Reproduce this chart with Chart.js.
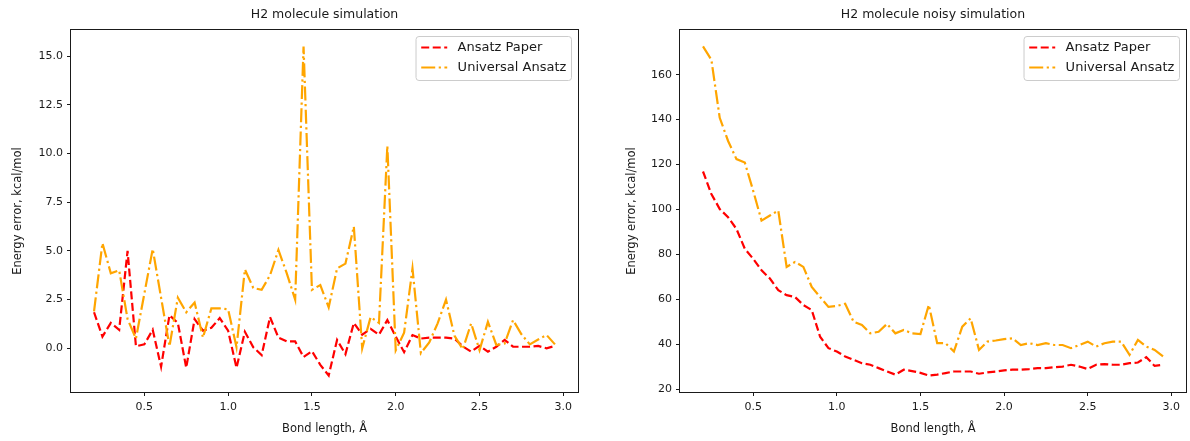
<!DOCTYPE html>
<html>
<head>
<meta charset="utf-8">
<script src="https://cdn.jsdelivr.net/npm/chart.js@4.4.0/dist/chart.umd.min.js"></script>
<style>
  html, body { margin: 0; padding: 0; background: #fff; }
  #wrap { position: relative; width: 1190px; height: 441px; }
  canvas { position: absolute; top: 0; }
</style>
</head>
<body>
<div id="wrap">
  <canvas id="ideal" width="590" height="441" style="left:0"></canvas>
  <canvas id="noisy" width="600" height="441" style="left:590px"></canvas>
</div>
<script>
// bond lengths, Å
const bondLength = [0.20, 0.25, 0.30, 0.35, 0.40, 0.45, 0.50, 0.55, 0.60, 0.65,
    0.70, 0.75, 0.80, 0.85, 0.90, 0.95, 1.00, 1.05, 1.10, 1.15,
    1.20, 1.25, 1.30, 1.35, 1.40, 1.45, 1.50, 1.55, 1.60, 1.65,
    1.70, 1.75, 1.80, 1.85, 1.90, 1.95, 2.00, 2.05, 2.10, 2.15,
    2.20, 2.25, 2.30, 2.35, 2.40, 2.45, 2.50, 2.55, 2.60, 2.65,
    2.70, 2.75, 2.80, 2.85, 2.90, 2.95];

// energy error, kcal/mol (noiseless)
const paperIdeal = [1.85, 0.6, 1.3, 0.95, 5.0, 0.1, 0.2, 0.95, -0.95, 1.7,
    1.3, -1.0, 1.5, 0.9, 1.05, 1.55, 0.9, -1.0, 0.85, 0.05,
    -0.35, 1.6, 0.55, 0.35, 0.35, -0.45, -0.15, -0.85, -1.4, 0.43,
    -0.3, 1.3, 0.7, 1.0, 0.7, 1.45, 0.6, -0.2, 0.68, 0.5,
    0.55, 0.55, 0.55, 0.5, 0.1, -0.17, 0.12, -0.17, 0.08, 0.43,
    0.08, 0.08, 0.08, 0.12, 0.0, 0.12];
const universalIdeal = [1.9, 5.4, 3.85, 4.0, 1.5, 0.5, 2.8, 5.1, 2.6, 0.1,
    2.6, 1.85, 2.35, 0.55, 2.05, 2.05, 2.0, 0.05, 4.05, 3.1,
    3.0, 3.75, 5.05, 3.85, 2.5, 15.5, 3.0, 3.25, 2.1, 4.1,
    4.35, 6.25, 0.0, 1.6, 1.3, 10.4, -0.1, 0.8, 4.1, -0.25,
    0.3, 1.28, 2.5, 0.65, -0.05, 1.28, -0.1, 1.36, 0.17, 0.25,
    1.45, 0.72, 0.2, 0.45, 0.68, 0.2];

// energy error, kcal/mol (noisy)
const paperNoisy = [116.9, 106.9, 100.2, 96.5, 91.3, 82.5, 78.0, 72.9, 69.2, 64.0,
    61.8, 61.0, 57.4, 55.2, 43.3, 38.2, 36.7, 34.5, 33.0, 31.5,
    30.8, 29.3, 27.8, 26.4, 28.6, 28.0, 27.2, 26.0, 26.4, 27.1,
    27.8, 27.8, 27.8, 26.8, 27.4, 27.8, 28.3, 28.6, 28.6, 28.9,
    29.3, 29.3, 29.7, 30.0, 30.8, 30.0, 28.9, 30.8, 31.1, 30.8,
    30.8, 31.5, 31.8, 34.2, 30.3, 30.8];
const universalNoisy = [172.6, 166.7, 140.8, 130.5, 122.4, 120.9, 108.3, 95.0, 97.3, 99.5,
    74.4, 76.6, 74.4, 65.5, 61.0, 56.6, 57.0, 58.0, 50.0, 48.5,
    44.8, 45.5, 49.0, 44.8, 46.3, 44.8, 44.5, 57.5, 40.4, 40.4,
    36.7, 47.8, 51.5, 37.4, 41.1, 41.6, 42.2, 42.6, 39.6, 40.4,
    39.6, 40.4, 39.6, 39.6, 38.2, 39.6, 41.1, 38.9, 40.4, 41.1,
    41.1, 35.2, 41.9, 38.9, 37.4, 34.5];

const xTicks = [0.5, 1.0, 1.5, 2.0, 2.5, 3.0];
const yTicksIdeal = [0, 2.5, 5.0, 7.5, 10.0, 12.5, 15.0];
const yTicksNoisy = [20, 40, 60, 80, 100, 120, 140, 160];

const FONT = "'DejaVu Sans', sans-serif";
const INK = "#1a1a1a";
Chart.defaults.font.family = FONT;
Chart.defaults.color = INK;

// matplotlib-like 5% margins
function padRange(arrs) {
    const all = [].concat(...arrs);
    const lo = Math.min(...all), hi = Math.max(...all);
    const m = (hi - lo) * 0.05;
    return [lo - m, hi + m];
}

// black box round the plot area
const framePlugin = {
    id: "frame",
    afterDatasetsDraw(chart) {
        const a = chart.chartArea, ctx = chart.ctx;
        ctx.save();
        ctx.strokeStyle = INK;
        ctx.lineWidth = 1;
        ctx.strokeRect(Math.round(a.left) - 0.5, Math.round(a.top) - 0.5,
            Math.round(a.right - a.left) + 1, Math.round(a.bottom - a.top) + 1);
        ctx.restore();
    }
};

// legend in a rounded frame, upper right of the axes
const boxLegend = {
    id: "boxLegend",
    afterDatasetsDraw(chart) {
        const a = chart.chartArea, ctx = chart.ctx;
        const fs = 13;
        const sets = chart.data.datasets;
        ctx.save();
        ctx.font = fs + "px " + FONT;
        const textW = Math.max(...sets.map(d => ctx.measureText(d.label).width));
        const w = 41.6 + textW + 5.2, h = 44;
        const x0 = a.right - 6.5 - w, y0 = a.top + 6.5, r = 3;
        ctx.beginPath();
        ctx.moveTo(x0 + r, y0);
        ctx.arcTo(x0 + w, y0, x0 + w, y0 + h, r);
        ctx.arcTo(x0 + w, y0 + h, x0, y0 + h, r);
        ctx.arcTo(x0, y0 + h, x0, y0, r);
        ctx.arcTo(x0, y0, x0 + w, y0, r);
        ctx.closePath();
        ctx.fillStyle = "rgba(255,255,255,0.8)";
        ctx.fill();
        ctx.strokeStyle = "#cccccc";
        ctx.lineWidth = 1;
        ctx.stroke();
        sets.forEach((d, i) => {
            const cy = y0 + 11 + i * 20;
            ctx.beginPath();
            ctx.setLineDash(d.borderDash);
            ctx.strokeStyle = d.borderColor;
            ctx.lineWidth = d.borderWidth;
            ctx.moveTo(x0 + 5.2, cy);
            ctx.lineTo(x0 + 31.2, cy);
            ctx.stroke();
            ctx.setLineDash([]);
            ctx.fillStyle = INK;
            ctx.textBaseline = "middle";
            ctx.textAlign = "left";
            ctx.fillText(d.label, x0 + 41.6, cy + 0.5);
        });
        ctx.restore();
    }
};

function makePanel(id, title, paper, universal, yTicks, yFmt, box) {
    const [ymin, ymax] = padRange([paper, universal]);
    const [xmin, xmax] = padRange([bondLength]);
    return new Chart(document.getElementById(id), {
        type: "line",
        data: {
            labels: bondLength,
            datasets: [
                {
                    label: "Ansatz Paper",
                    data: bondLength.map((x, i) => ({ x: x, y: paper[i] })),
                    borderColor: "#ff0000",
                    borderWidth: 2.2,
                    borderDash: [8, 3.5],
                    pointRadius: 0,
                    tension: 0,
                    order: 1
                },
                {
                    label: "Universal Ansatz",
                    data: bondLength.map((x, i) => ({ x: x, y: universal[i] })),
                    borderColor: "#ffa500",
                    borderWidth: 2.2,
                    borderDash: [14, 3.5, 2.2, 3.5],
                    pointRadius: 0,
                    tension: 0,
                    order: 0
                }
            ]
        },
        options: {
            responsive: false,
            animation: false,
            layout: { padding: { left: 0, right: box.padRight, top: 0, bottom: 0 } },
            plugins: {
                legend: { display: false },
                tooltip: { enabled: false },
                title: {
                    display: true,
                    text: title,
                    fullSize: false,
                    color: INK,
                    font: { size: 12.5, weight: "normal" },
                    padding: { top: 7, bottom: 8 }
                }
            },
            scales: {
                x: {
                    type: "linear",
                    min: xmin,
                    max: xmax,
                    afterBuildTicks: s => { s.ticks = xTicks.map(v => ({ value: v })); },
                    afterFit: s => { s.height = 49; },
                    ticks: {
                        autoSkip: false,
                        maxRotation: 0,
                        padding: 5,
                        color: INK,
                        font: { size: 11 },
                        callback: v => v.toFixed(1)
                    },
                    grid: { drawOnChartArea: false, drawTicks: true, tickLength: 4, tickColor: INK },
                    border: { display: false },
                    title: {
                        display: true,
                        text: "Bond length, Å",
                        color: INK,
                        font: { size: 11.5 },
                        padding: { top: 2, bottom: 5 }
                    }
                },
                y: {
                    type: "linear",
                    min: ymin,
                    max: ymax,
                    afterBuildTicks: s => { s.ticks = yTicks.map(v => ({ value: v })); },
                    afterFit: s => { s.width = box.yWidth; },
                    ticks: {
                        autoSkip: false,
                        padding: 4,
                        color: INK,
                        font: { size: 11 },
                        callback: yFmt
                    },
                    grid: { drawOnChartArea: false, drawTicks: true, tickLength: 4, tickColor: INK },
                    border: { display: false },
                    title: {
                        display: true,
                        text: "Energy error, kcal/mol",
                        color: INK,
                        font: { size: 11.5 },
                        padding: { top: box.yTitlePad, bottom: 0 }
                    }
                }
            }
        },
        plugins: [framePlugin, boxLegend]
    });
}

makePanel("ideal", "H2 molecule simulation", paperIdeal, universalIdeal,
    yTicksIdeal, v => v.toFixed(1), { padRight: 12, yWidth: 71, yTitlePad: 11 });
makePanel("noisy", "H2 molecule noisy simulation", paperNoisy, universalNoisy,
    yTicksNoisy, v => String(Math.round(v)), { padRight: 4, yWidth: 90, yTitlePad: 35 });
</script>
</body>
</html>
